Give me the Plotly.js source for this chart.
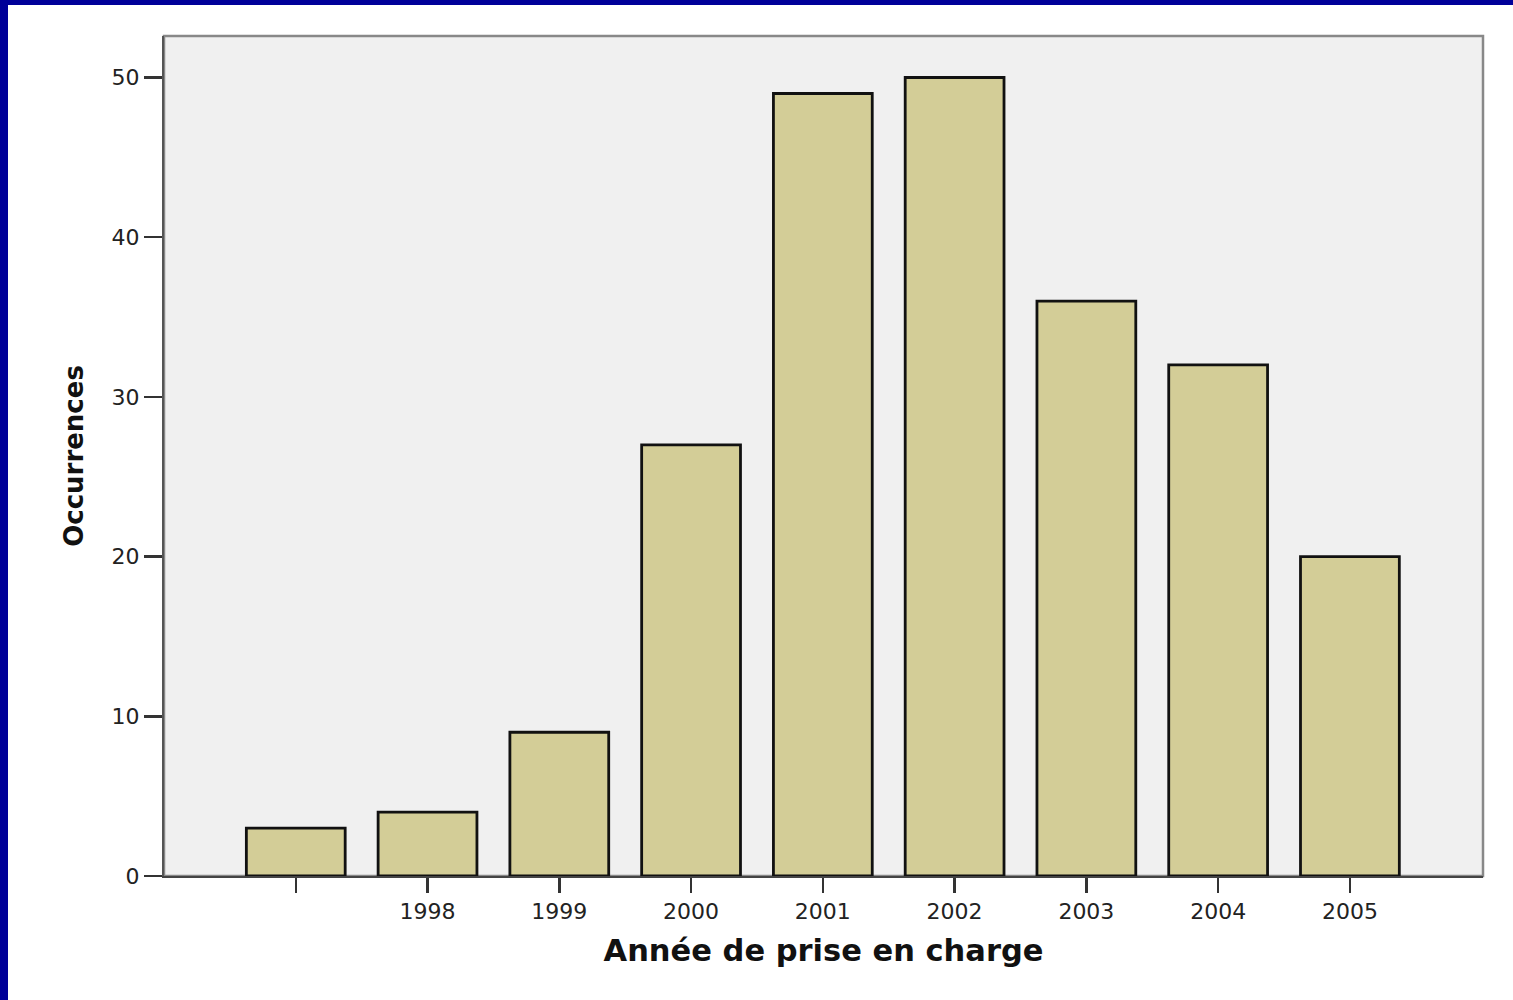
<!DOCTYPE html>
<html>
<head>
<meta charset="utf-8">
<script src="https://cdn.plot.ly/plotly-3.0.1.min.js"></script>
<style>
  html, body { margin: 0; padding: 0; background: #ffffff; }
  #wrap { position: relative; width: 1513px; height: 1000px; overflow: hidden; }
  #chart { position: absolute; left: 0; top: 0; width: 1513px; height: 1000px; }
  .bl { position: absolute; left: 0; top: 0; width: 8px; height: 1000px; background: #000099; }
  .bt { position: absolute; left: 0; top: 0; width: 1513px; height: 5px; background: #000099; }
</style>
</head>
<body>
<div id="wrap">
  <div id="chart"></div>
  <div class="bl"></div>
  <div class="bt"></div>
</div>
<script>
const categories = ['', '1998', '1999', '2000', '2001', '2002', '2003', '2004', '2005'];
const occurrences = [3, 4, 9, 27, 49, 50, 36, 32, 20];
const positions = categories.map((c, i) => i);

const trace = {
  type: 'bar',
  x: positions,
  y: occurrences,
  width: 0.75,
  marker: { color: '#d3cd97', line: { color: '#111111', width: 2.8 } },
  hoverinfo: 'x+y'
};

const layout = {
  width: 1513,
  height: 1000,
  margin: { l: 164, r: 30, t: 36, b: 124 },
  paper_bgcolor: 'rgba(0,0,0,0)',
  plot_bgcolor: '#f0f0f0',
  showlegend: false,
  font: { family: 'DejaVu Sans, sans-serif', color: '#222222' },
  xaxis: {
    range: [-1, 9.01],
    tickmode: 'array',
    tickvals: positions,
    ticktext: categories,
    ticks: 'outside',
    ticklen: 15,
    tickwidth: 2.5,
    tickcolor: '#333333',
    showgrid: false,
    zeroline: false,
    showline: true,
    linecolor: '#444444',
    linewidth: 2,
    tickfont: { size: 22, color: '#222222' },
    title: { text: 'Année de prise en charge', font: { size: 30.5, color: '#111111', family: 'DejaVu Sans, sans-serif', weight: 'bold' }, standoff: 16 }
  },
  yaxis: {
    range: [0, 52.6],
    dtick: 10,
    ticks: 'outside',
    ticklen: 18,
    tickwidth: 2.5,
    tickcolor: '#333333',
    showgrid: false,
    zeroline: false,
    showline: true,
    linecolor: '#555555',
    linewidth: 2,
    tickfont: { size: 22, color: '#222222' },
    title: { text: 'Occurrences', font: { size: 26, color: '#111111', family: 'DejaVu Sans, sans-serif', weight: 'bold' }, standoff: 20 }
  },
  shapes: [
    { type: 'rect', xref: 'paper', yref: 'paper', x0: 0, x1: 1, y0: 0, y1: 1,
      line: { color: '#888888', width: 2.5 }, fillcolor: 'rgba(0,0,0,0)', layer: 'below' }
  ]
};

Plotly.newPlot('chart', [trace], layout, { displayModeBar: false, staticPlot: true });
</script>
</body>
</html>
